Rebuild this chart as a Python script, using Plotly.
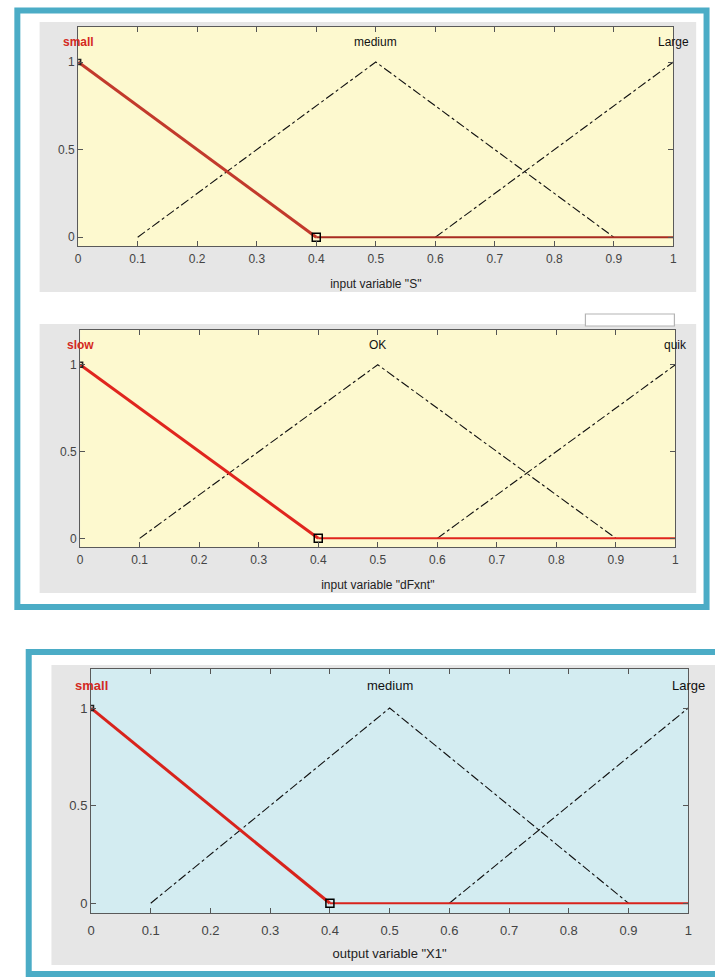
import plotly.graph_objects as go

W, H = 715, 978

# ---- data ----
x_ticks = [0, 0.1, 0.2, 0.3, 0.4, 0.5, 0.6, 0.7, 0.8, 0.9, 1]
x_ticktext = ["0", "0.1", "0.2", "0.3", "0.4", "0.5", "0.6", "0.7", "0.8", "0.9", "1"]
y_ticks = [0, 0.5, 1]
y_ticktext = ["0", "0.5", "1"]

small_x = [0, 0.4]
small_y = [1, 0]
small_flat_x = [0.4, 1]
small_flat_y = [0, 0]
medium_x = [0.1, 0.5, 0.9]
medium_y = [0, 1, 0]
large_x = [0.6, 1.0]
large_y = [0, 1]

label_peaks = [0, 0.5, 1]
labels_1 = ["small", "medium", "Large"]
labels_2 = ["slow", "OK", "quik"]
labels_3 = ["small", "medium", "Large"]
titles = ['input variable "S"', 'input variable "dFxnt"', 'output variable "X1"']

# ---- layout geometry in pixels ----
def px(x):
    return x / W

def py(y):
    return 1 - y / H

panels = [
    dict(x0=75, x1=677, y0=27, y1=246, bg="#fdf9cf", red="#c23a2c", flat="#a82c22",
         labels=labels_1, gray=(36, 22, 700, 292), fs=12, tls=2, stand=14),
    dict(x0=77, x1=679, y0=330, y1=547, bg="#fdf9cf", red="#e0261e", flat="#e0261e",
         labels=labels_2, gray=(36, 324, 700, 593), fs=12, tls=2, stand=14),
    dict(x0=88, x1=692, y0=669, y1=913, bg="#d3ecf1", red="#d8231c", flat="#d8231c",
         labels=labels_3, gray=(48, 665, 720, 965), fs=13, tls=5, stand=12),
]

fig = go.Figure()
shapes = []
annotations = []

# gray panels first
for p in panels:
    gx0, gy0, gx1, gy1 = p["gray"]
    shapes.append(dict(type="rect", xref="paper", yref="paper", layer="below",
                       x0=px(gx0), x1=px(gx1), y0=py(gy1), y1=py(gy0),
                       fillcolor="#e6e6e6", line=dict(width=0)))

# small white box above panel 2
shapes.append(dict(type="rect", xref="paper", yref="paper", layer="below",
                   x0=px(588), x1=px(678), y0=py(326), y1=py(314),
                   fillcolor="#ffffff", line=dict(color="#b4b4b4", width=1.2)))

for i, p in enumerate(panels, start=1):
    xa = "x" if i == 1 else f"x{i}"
    ya = "y" if i == 1 else f"y{i}"
    xkey = "xaxis" if i == 1 else f"xaxis{i}"
    ykey = "yaxis" if i == 1 else f"yaxis{i}"

    # plot-area background
    shapes.append(dict(type="rect", xref=f"{xa} domain", yref=f"{ya} domain", layer="below",
                       x0=0, x1=1, y0=0, y1=1, fillcolor=p["bg"], line=dict(width=0)))

    fig.add_trace(go.Scatter(x=medium_x, y=medium_y, mode="lines", xaxis=xa, yaxis=ya,
                             line=dict(color="#111111", width=1.1, dash="dashdot"),
                             showlegend=False, hoverinfo="skip"))
    fig.add_trace(go.Scatter(x=large_x, y=large_y, mode="lines", xaxis=xa, yaxis=ya,
                             line=dict(color="#111111", width=1.1, dash="dashdot"),
                             showlegend=False, hoverinfo="skip"))
    fig.add_trace(go.Scatter(x=small_flat_x, y=small_flat_y, mode="lines", xaxis=xa, yaxis=ya,
                             line=dict(color=p["flat"], width=2),
                             showlegend=False, hoverinfo="skip"))
    fig.add_trace(go.Scatter(x=small_x, y=small_y, mode="lines", xaxis=xa, yaxis=ya,
                             line=dict(color=p["red"], width=3),
                             showlegend=False, hoverinfo="skip"))
    # markers
    fig.add_trace(go.Scatter(x=[small_x[1]], y=[small_y[1]], mode="markers", xaxis=xa, yaxis=ya,
                             marker=dict(symbol="square-open", size=8, color="#000000",
                                         line=dict(width=1.5)),
                             showlegend=False, hoverinfo="skip"))
    fig.add_trace(go.Scatter(x=[small_x[0]], y=[small_y[0]], mode="markers", xaxis=xa, yaxis=ya,
                             marker=dict(symbol="square-open", size=5, color="#222222",
                                         line=dict(width=1.5)),
                             showlegend=False, hoverinfo="skip"))

    fig.layout[xkey] = dict(
        domain=[px(p["x0"]), px(p["x1"])], range=[0, 1], anchor=ya,
        tickmode="array", tickvals=x_ticks, ticktext=x_ticktext,
        ticks="inside", ticklen=5, tickcolor="#555555",
        showline=True, linecolor="#5a5a5a", linewidth=1, mirror="ticks",
        showgrid=False, zeroline=False, ticklabelstandoff=p["tls"],
        tickfont=dict(family="Liberation Sans, Arial", size=p["fs"], color="#444444"),
        title=dict(text=titles[i - 1], standoff=p["stand"],
                   font=dict(family="Liberation Sans, Arial", size=p["fs"], color="#222222")),
    )
    fig.layout[ykey] = dict(
        domain=[py(p["y1"]), py(p["y0"])], range=[-0.05, 1.2], anchor=xa,
        tickmode="array", tickvals=y_ticks, ticktext=y_ticktext,
        ticks="inside", ticklen=5, tickcolor="#555555",
        showline=True, linecolor="#5a5a5a", linewidth=1, mirror="ticks",
        showgrid=False, zeroline=False,
        tickfont=dict(family="Liberation Sans, Arial", size=p["fs"], color="#444444"),
    )

    for j, (xpk, txt) in enumerate(zip(label_peaks, p["labels"])):
        annotations.append(dict(
            x=xpk, y=1.115, xref=xa, yref=ya, text=(f"<b>{txt}</b>" if j == 0 else txt),
            showarrow=False, xanchor="center", yanchor="middle",
            font=dict(family="Liberation Sans, Arial", size=p["fs"],
                      color=("#d42a22" if j == 0 else "#111111")),
        ))

# blue frames
shapes.append(dict(type="rect", xref="paper", yref="paper", layer="above",
                   x0=px(13.5), x1=px(710.5), y0=py(607), y1=py(10.5),
                   fillcolor="rgba(0,0,0,0)", line=dict(color="#4bacc6", width=6)))
shapes.append(dict(type="rect", xref="paper", yref="paper", layer="above",
                   x0=px(25), x1=px(730), y0=py(974), y1=py(652),
                   fillcolor="rgba(0,0,0,0)", line=dict(color="#4bacc6", width=6)))

fig.update_layout(
    width=W, height=H,
    margin=dict(l=0, r=0, t=0, b=0),
    paper_bgcolor="#ffffff",
    plot_bgcolor="rgba(0,0,0,0)",
    shapes=shapes,
    annotations=annotations,
    showlegend=False,
)

fig.write_html("out.html",
               config={"displayModeBar": False},
               post_script="document.body.style.margin='0';document.body.style.overflow='hidden';")
